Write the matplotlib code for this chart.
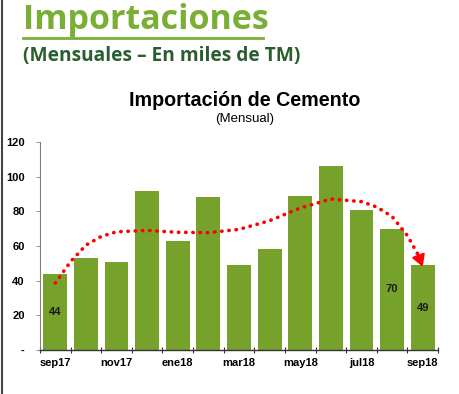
import numpy as np
import matplotlib
matplotlib.use('Agg')
import matplotlib.pyplot as plt
from matplotlib.lines import Line2D

# Monthly cement imports (thousand TM)
months = ['sep17', 'oct17', 'nov17', 'dic17', 'ene18', 'feb18', 'mar18',
          'abr18', 'may18', 'jun18', 'jul18', 'ago18', 'sep18']
imports = [44, 53, 51, 92, 63, 88, 49, 58, 89, 106, 81, 70, 49]
labeled = {0: '44', 11: '70', 12: '49'}

# hand-drawn trend arrow
trend_x = [0.0, 0.5, 1.0, 1.5, 2.0, 3.0, 4.0, 5.0, 6.0, 7.0, 8.0, 9.0, 10.0, 10.5, 11.0, 11.5, 11.85, 12.0]
trend_y = [38.6, 51.0, 60.5, 65.5, 68.2, 69.0, 67.9, 67.7, 69.6, 74.6, 81.9, 87.1, 85.6, 82.5, 77.0, 66.0, 55.0, 48.0]

BAR_COLOR = '#76A22C'
RED = '#FF0000'

plt.rcParams['font.family'] = ['Liberation Sans', 'DejaVu Sans']

fig = plt.figure(figsize=(4.59, 3.94), dpi=100)
ax = fig.add_axes([40 / 459, 1 - 350 / 394, 398 / 459, 208 / 394])

x = np.arange(len(months))
ax.bar(x, imports, width=0.78, color=BAR_COLOR, zorder=2)

for i, txt in labeled.items():
    ax.text(i, imports[i] / 2, txt, ha='center', va='center',
            fontsize=8, fontweight='bold', color='#1a1a1a', zorder=4)

# dotted trend line ending in a solid arrow head
ax.plot(trend_x[:-1], trend_y[:-1], color=RED, linewidth=2.6,
        linestyle=(0, (0.1, 1.9)), dash_capstyle='round', zorder=3)
ax.annotate('', xy=(trend_x[-1], trend_y[-1]), xytext=(trend_x[-2], trend_y[-2]),
            arrowprops=dict(arrowstyle='-|>,head_length=0.7,head_width=0.4',
                            color=RED, lw=1.5, shrinkA=0, shrinkB=0), zorder=3)

ax.set_xlim(-0.5, len(months) - 0.5)
ax.set_ylim(0, 120)
ax.set_yticks(range(0, 121, 20))
ax.set_yticklabels(['-'] + [str(v) for v in range(20, 121, 20)])

ax.set_xticks(np.arange(-0.5, len(months), 1.0))
ax.set_xticklabels([])
ax.set_xticks(x[::2], minor=True)
ax.set_xticklabels(months[::2], minor=True)
ax.tick_params(axis='x', which='major', direction='inout', length=5, width=0.8, color='#333333')
ax.tick_params(axis='x', which='minor', length=0, pad=6, labelsize=8)
ax.tick_params(axis='y', direction='out', length=3, width=0.6, color='#808080',
               labelsize=8, pad=8)
for lab in ax.get_xticklabels(minor=True) + ax.get_yticklabels():
    lab.set_fontweight('bold')

for side in ['top', 'right']:
    ax.spines[side].set_visible(False)
ax.spines['left'].set_color('#808080')
ax.spines['left'].set_linewidth(0.8)
ax.spines['bottom'].set_color('#333333')
ax.spines['bottom'].set_linewidth(1.0)

# chart title
fig.text(245 / 459, 1 - 101 / 394, 'Importación de Cemento', ha='center', va='center',
         fontsize=14.2, fontweight='bold', color='black')
fig.text(245 / 459, 1 - 119 / 394, '(Mensual)', ha='center', va='center',
         fontsize=9.5, color='black')

# slide header
fig.text(23 / 459, 1 - 20 / 394, 'Importaciones', ha='left', va='center',
         fontsize=24.5, fontweight='bold', color='#7AAF35', family=['Open Sans', 'DejaVu Sans'])
fig.add_artist(Line2D([23 / 459, 263 / 459], [1 - 38 / 394, 1 - 38 / 394],
                      color='#7AAF35', linewidth=2))
fig.text(23 / 459, 1 - 56 / 394, '(Mensuales – En miles de TM)', ha='left', va='center',
         fontsize=13.8, fontweight='bold', color='#2B5E2E', family=['Open Sans', 'DejaVu Sans'])

# slide border on the left
fig.add_artist(Line2D([1.5 / 459, 1.5 / 459], [0, 1], color='#444444', linewidth=1.5))

plt.savefig('out.png', dpi=100)
plt.close()
